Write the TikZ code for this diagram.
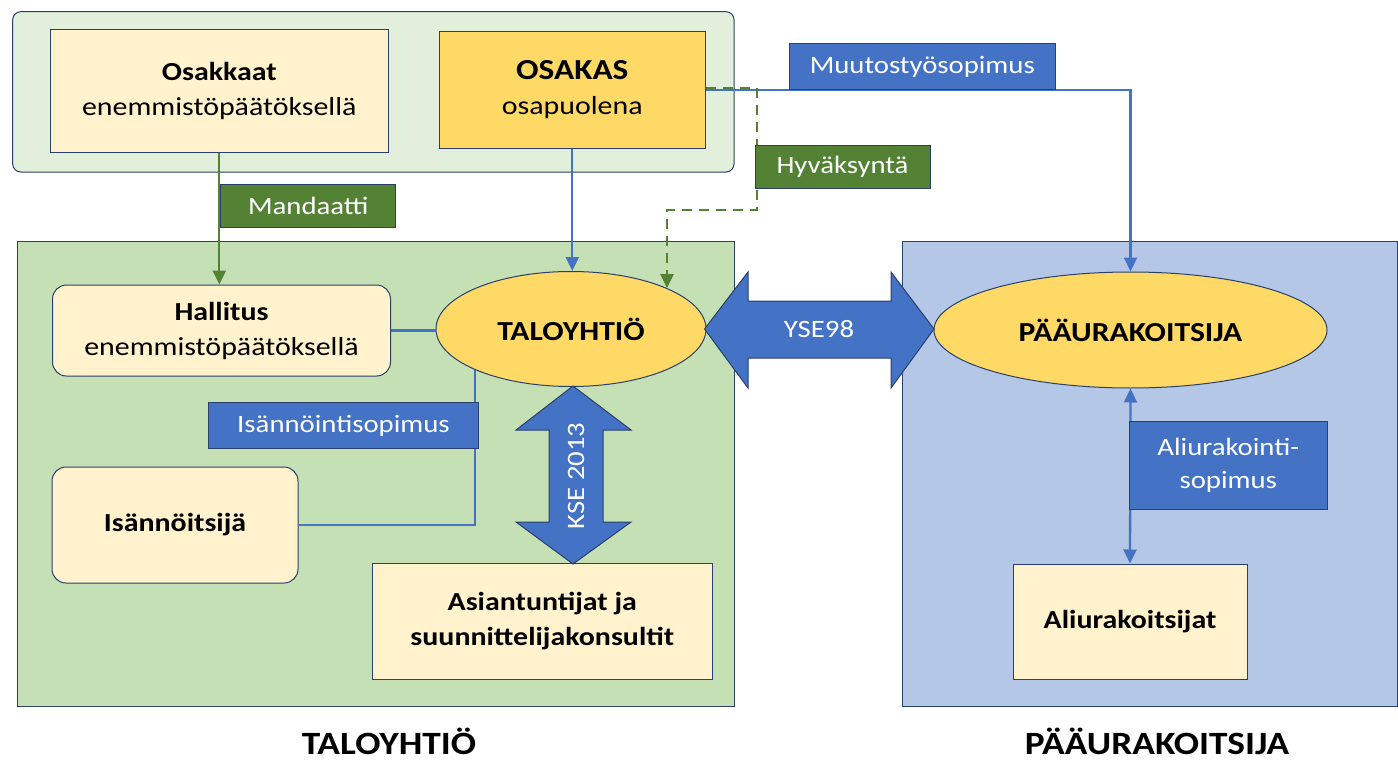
\documentclass[tikz,border=0pt]{standalone}
\usepackage{fontspec}
\setmainfont{Carlito}[FakeStretch=1.15]
\usetikzlibrary{arrows.meta,shapes.geometric}
\definecolor{bord}{HTML}{2A3F6B}
\definecolor{lgreen}{HTML}{E2EFDA}
\definecolor{mgreen}{HTML}{C5E0B4}
\definecolor{lblue}{HTML}{B4C7E7}
\definecolor{pale}{HTML}{FFF2CC}
\definecolor{gold}{HTML}{FFD966}
\definecolor{accblue}{HTML}{4472C4}
\definecolor{accgreen}{HTML}{548235}
\tikzset{
  box/.style={draw=bord, line width=1pt, align=center, inner sep=0pt, fill=pale,
    font=\fontsize{26}{35}\selectfont},
  rbox/.style={box, rounded corners=14pt},
  oval/.style={ellipse, draw=bord, line width=1pt, fill=gold, inner sep=0pt,
    font=\fontsize{27.5}{33}\selectfont\bfseries},
  tag/.style={draw=bord, line width=1pt, align=center, inner sep=0pt, text=white,
    font=\fontsize{25}{33}\selectfont},
  btag/.style={tag, fill=accblue},
  gtag/.style={tag, fill=accgreen},
  bline/.style={draw=accblue, line width=2.3pt},
  gline/.style={draw=accgreen, line width=2.3pt},
  tip/.style={-{Triangle[length=14pt,width=13pt]}},
  fat/.style={draw=bord, line width=1pt, fill=accblue},
  title/.style={inner sep=0pt, font=\fontsize{32.5}{38}\selectfont\bfseries}
}
\begin{document}
\begin{tikzpicture}[x=1pt,y=-1pt]
\useasboundingbox (0,0) rectangle (1398,760);
% background panels
\draw[draw=bord, line width=1pt, fill=lgreen, rounded corners=8pt] (12.7,11.7) rectangle (734,172);
\draw[draw=bord, line width=1pt, fill=mgreen] (17,241) rectangle (734,706);
\draw[draw=bord, line width=1pt, fill=lblue] (902,241) rectangle (1397,706);

% nodes
\node[box, minimum width=337.5pt, minimum height=122pt] (osakkaat) at (219.3,91)
  {\textbf{Osakkaat}\\enemmistöpäätöksellä};
\node[box, fill=gold, minimum width=266.5pt, minimum height=116pt] (osakas) at (572.3,90)
  {{\fontsize{29}{35}\selectfont\bfseries OSAKAS}\\osapuolena};
\node[rbox, minimum width=338pt, minimum height=91pt] (hallitus) at (221.5,330.5)
  {\textbf{Hallitus}\\enemmistöpäätöksellä};
\node[rbox, minimum width=246pt, minimum height=116pt] (isann) at (175,525)
  {\textbf{Isännöitsijä}};
\node[box, minimum width=340.5pt, minimum height=116pt] (asian) at (542.3,621)
  {\textbf{Asiantuntijat ja}\\\textbf{suunnittelijakonsultit}};
\node[box, minimum width=234pt, minimum height=115pt] (aliur) at (1130,621.5)
  {\textbf{Aliurakoitsijat}};
\node[oval, minimum width=270pt, minimum height=115pt] (taloy) at (571,329) {TALOYHTIÖ};
\node[oval, minimum width=393pt, minimum height=116pt] (paa) at (1130.5,330) {PÄÄURAKOITSIJA};

% fat double arrows
\filldraw[fat] (704.5,329) -- (748,272) -- (748,301) -- (891,301) -- (891,272) -- (934,329)
  -- (891,388) -- (891,358) -- (748,358) -- (748,388) -- cycle;
\node[text=white, font=\fontsize{25}{30}\selectfont] (yse) at (819,329.5) {YSE98};
\filldraw[fat] (573,386) -- (631,430) -- (603,430) -- (603,522) -- (631,522) -- (573,564)
  -- (516,522) -- (549,522) -- (549,430) -- (516,430) -- cycle;
\node[text=white, rotate=90, font=\fontsize{25}{30}\selectfont] (kse) at (576,476) {KSE 2013};

% connectors
\draw[gline, tip] (osakkaat.south) -- (osakkaat.south |- hallitus.north);
\draw[bline, tip] (osakas.south) -- (osakas.south |- taloy.north);
\draw[bline, tip] (osakas.east) -| (paa.north);
\coordinate (hv1) at (757,88);
\coordinate (hv2) at (667,210);
\draw[gline, tip, line width=2.6pt, dash pattern=on 10pt off 7pt] (osakas.east |- hv1) -- (hv1) |- (hv2) -- (hv2 |- taloy.23);
\draw[bline] (hallitus.east) -- (hallitus.east -| taloy.west);
\draw[bline] (taloy.203) |- (isann.east);
\draw[bline, {Triangle[length=14pt,width=13pt]}-{Triangle[length=14pt,width=13pt]}] (paa.south) -- (aliur.north);

% labels on connectors
\node[gtag, minimum width=175pt, minimum height=43pt] (mand) at (308.3,205.5) {Mandaatti};
\node[btag, minimum width=266.5pt, minimum height=46pt] (muut) at (922.3,67) {Muutostyösopimus};
\node[gtag, minimum width=175pt, minimum height=43pt] (hyv) at (842.5,166.5) {Hyväksyntä};
\node[btag, minimum width=270pt, minimum height=46.5pt] (isop) at (343.5,425.5) {Isännöintisopimus};
\node[btag, minimum width=197.5pt, minimum height=88pt] (asop) at (1228.3,465)
  {Aliurakointi-\\sopimus};

% titles
\node[title] (t1) at (389,741) {TALOYHTIÖ};
\node[title] (t2) at (1157,741) {PÄÄURAKOITSIJA};
\end{tikzpicture}
\end{document}
